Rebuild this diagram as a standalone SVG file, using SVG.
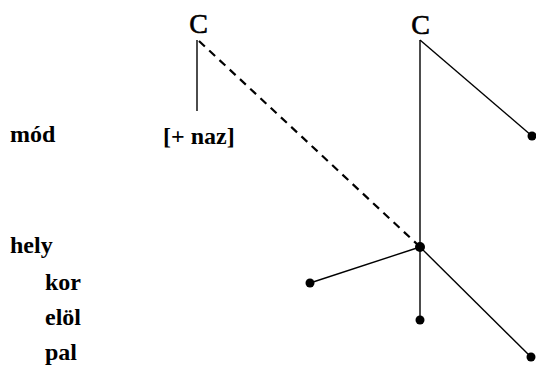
<svg xmlns="http://www.w3.org/2000/svg" width="536" height="367" viewBox="0 0 536 367">
<style>
text { font-family: "Liberation Serif", "Times New Roman", serif; fill: #000; }
.lbl { font-size: 24px; font-weight: bold; }
.c { font-size: 28px; text-anchor: middle; stroke: #000; stroke-width: 0.6; }
.ln { stroke: #000; stroke-width: 1.4; fill: none; }
.dash { stroke: #000; stroke-width: 2.2; fill: none; stroke-dasharray: 8 6; }
.dot { fill: #000; }
</style>
<rect width="536" height="367" fill="#fff"/>
<g id="labels">
<text class="lbl" x="10" y="142">mód</text>
<text class="lbl" x="10" y="253">hely</text>
<text class="lbl" x="45" y="290">kor</text>
<text class="lbl" x="45" y="325">elöl</text>
<text class="lbl" x="45" y="360">pal</text>
</g>
<g id="C1"><text class="c" x="198.5" y="33">C</text></g>
<g id="C2"><text class="c" x="420.5" y="34">C</text></g>
<g id="naz"><text class="lbl" x="163" y="144">[+ naz]</text></g>
<g id="connectors">
<line class="ln" x1="197" y1="40" x2="197" y2="111"/>
<line class="dash" x1="199" y1="41" x2="418" y2="245"/>
<line class="ln" x1="420" y1="40" x2="420" y2="320"/>
<line class="ln" x1="420" y1="40" x2="532" y2="136"/>
<line class="ln" x1="420" y1="247" x2="531" y2="357"/>
<line class="ln" x1="310" y1="283" x2="420" y2="247"/>
</g>
<g id="nodes">
<circle id="n-center" class="dot" cx="420" cy="247" r="5"/>
<circle id="n-mod" class="dot" cx="532" cy="136" r="4.5"/>
<circle id="n-kor" class="dot" cx="310" cy="283" r="4.5"/>
<circle id="n-elol" class="dot" cx="420" cy="320" r="4.5"/>
<circle id="n-pal" class="dot" cx="531" cy="357" r="4.5"/>
</g>
</svg>
